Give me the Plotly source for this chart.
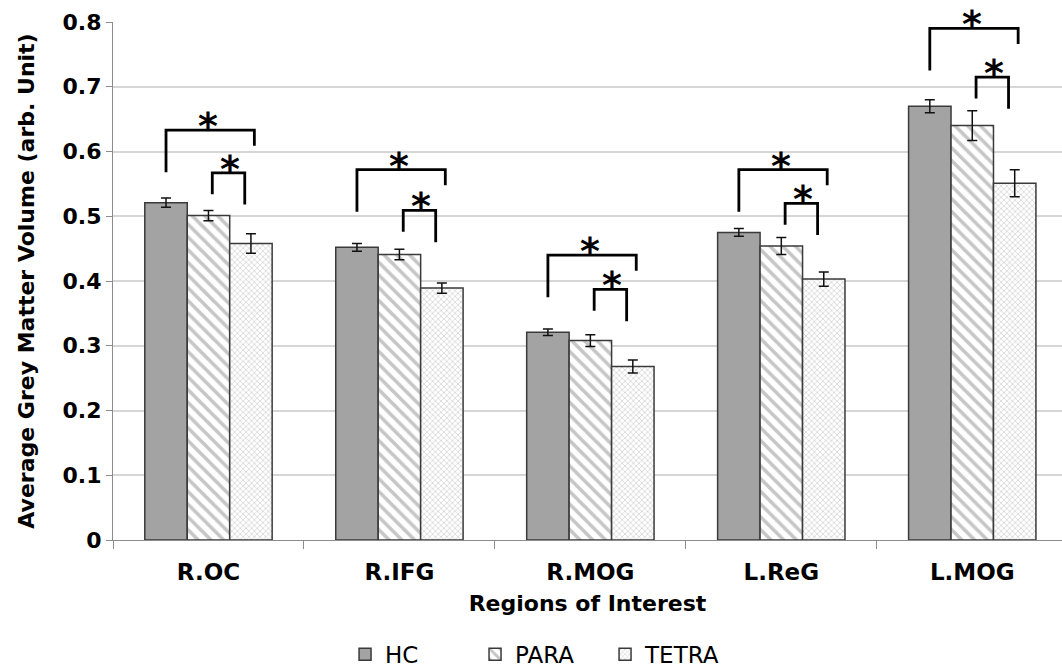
import plotly.graph_objects as go

regions = ["R.OC", "R.IFG", "R.MOG", "L.ReG", "L.MOG"]
hc = [0.521, 0.452, 0.321, 0.475, 0.670]
hc_err = [0.007, 0.006, 0.005, 0.006, 0.010]
para = [0.501, 0.441, 0.308, 0.454, 0.640]
para_err = [0.008, 0.008, 0.009, 0.013, 0.023]
tetra = [0.458, 0.389, 0.268, 0.403, 0.551]
tetra_err = [0.015, 0.008, 0.010, 0.011, 0.021]
# significance brackets (top level of each bracket, in data units)
sig_hc_tetra = [0.633, 0.572, 0.440, 0.572, 0.790]
sig_para_tetra = [0.567, 0.509, 0.387, 0.520, 0.715]

FONT = "DejaVu Sans, Arial, sans-serif"
EDGE = "#3a3a3a"

fig = go.Figure()
fig.add_trace(go.Bar(
    name="HC", x=regions, y=hc,
    marker=dict(color="#a3a3a3", line=dict(color=EDGE, width=1.5)),
    error_y=dict(type="data", array=hc_err, color="#111111", thickness=1.5, width=5),
))
fig.add_trace(go.Bar(
    name="PARA", x=regions, y=para,
    marker=dict(color="white", line=dict(color=EDGE, width=1.5),
                pattern=dict(shape="\\", size=9, solidity=0.4, fgcolor="#8e8e8e", bgcolor="white")),
    error_y=dict(type="data", array=para_err, color="#111111", thickness=1.5, width=5),
))
fig.add_trace(go.Bar(
    name="TETRA", x=regions, y=tetra,
    marker=dict(color="white", line=dict(color=EDGE, width=1.5),
                pattern=dict(shape="x", size=4, solidity=0.35, fgcolor="#a8a8a8", bgcolor="white")),
    error_y=dict(type="data", array=tetra_err, color="#111111", thickness=1.5, width=5),
))

bw = 1 - 0.333
off = bw / 3
shapes = []
annotations = []
for i in range(len(regions)):
    # HC vs TETRA
    top = sig_hc_tetra[i]
    xl, xr = i - off, i + off + 0.018
    shapes.append(dict(type="path", xref="x", yref="y",
                       path=f"M {xl},{top-0.065} L {xl},{top} L {xr},{top} L {xr},{top-0.024}",
                       line=dict(color="black", width=2.8)))
    annotations.append(dict(x=(xl + xr) / 2 - 0.01, y=top, xref="x", yref="y", text="<b>*</b>",
                            showarrow=False, yanchor="bottom", yshift=-20,
                            font=dict(size=38, color="black", family=FONT)))
    # PARA vs TETRA
    top = sig_para_tetra[i]
    xl, xr = i + 0.02, i + 0.19
    shapes.append(dict(type="path", xref="x", yref="y",
                       path=f"M {xl},{top-0.033} L {xl},{top} L {xr},{top} L {xr},{top-0.049}",
                       line=dict(color="black", width=2.8)))
    annotations.append(dict(x=(xl + xr) / 2 + 0.01, y=top, xref="x", yref="y", text="<b>*</b>",
                            showarrow=False, yanchor="bottom", yshift=-20,
                            font=dict(size=38, color="black", family=FONT)))

fig.update_layout(
    width=1062, height=669,
    margin=dict(l=113, r=0, t=21.5, b=128.5),
    paper_bgcolor="white", plot_bgcolor="white",
    barmode="group", bargap=0.333, bargroupgap=0,
    font=dict(family=FONT, color="black"),
    shapes=shapes, annotations=annotations,
    legend=dict(orientation="h", x=0.45, xanchor="center", yref="container",
                y=0.022, yanchor="middle", entrywidth=85,
                font=dict(size=23, family=FONT, color="black"), itemwidth=30),
    xaxis=dict(
        range=[-0.5, 4.47], tickson="boundaries", ticks="outside", ticklen=8,
        tickcolor="#8c8c8c", showline=True, linecolor="#8c8c8c", linewidth=1.2,
        tickfont=dict(size=23, family=FONT, color="black", weight="bold"),
        ticklabelstandoff=11, automargin=False,
        title=dict(text="<b>Regions of Interest</b>", font=dict(size=22, family=FONT), standoff=11),
    ),
    yaxis=dict(
        range=[0, 0.8], dtick=0.1, ticks="outside", ticklen=6,
        tickcolor="#8c8c8c", showline=True, linecolor="#8c8c8c", linewidth=1.2,
        showgrid=True, gridcolor="#d6d6d6", gridwidth=1.5, zeroline=False,
        tickfont=dict(size=22, family=FONT, color="black", weight="bold"),
        automargin=False,
        title=dict(text="<b>Average Grey Matter Volume (arb. Unit)</b>",
                   font=dict(size=22, family=FONT), standoff=21),
    ),
)
fig.update_yaxes(tickvals=[0, 0.1, 0.2, 0.3, 0.4, 0.5, 0.6, 0.7, 0.8],
                 ticktext=["0", "0.1", "0.2", "0.3", "0.4", "0.5", "0.6", "0.7", "0.8"])

fig.write_html("out.html")
